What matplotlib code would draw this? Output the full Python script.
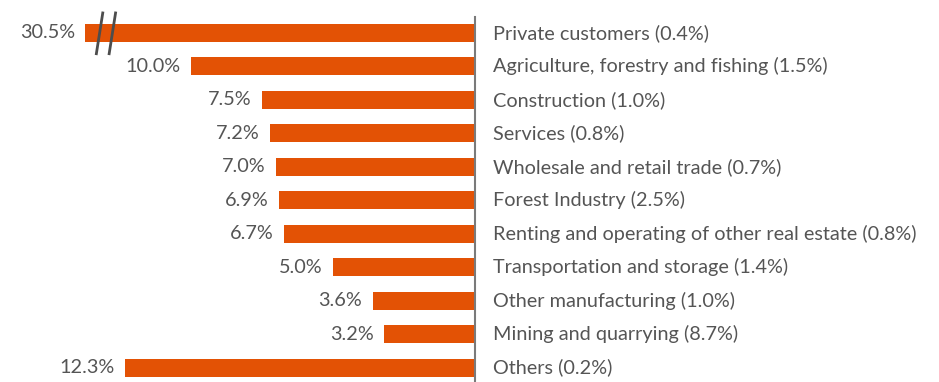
import matplotlib
matplotlib.use("Agg")
import matplotlib.pyplot as plt

# sector shares of the loan book, share of non-performing in brackets
sectors = [
    "Private customers",
    "Agriculture, forestry and fishing",
    "Construction",
    "Services",
    "Wholesale and retail trade",
    "Forest Industry",
    "Renting and operating of other real estate",
    "Transportation and storage",
    "Other manufacturing",
    "Mining and quarrying",
    "Others",
]
shares = [30.5, 10.0, 7.5, 7.2, 7.0, 6.9, 6.7, 5.0, 3.6, 3.2, 12.3]
npl_shares = [0.4, 1.5, 1.0, 0.8, 0.7, 2.5, 0.8, 1.4, 1.0, 8.7, 0.2]

# bars longer than this are cut and drawn with a break mark
BREAK_AT = 13.7

BAR_COLOR = "#e35205"
TEXT_COLOR = "#555555"
FONT = ["Lato", "DejaVu Sans"]

plt.rcParams["font.family"] = FONT

fig = plt.figure(figsize=(9.39, 3.82), dpi=100)
ax = fig.add_axes([0, 0, 1, 1])

n = len(sectors)
ys = list(range(n))
widths = [min(v, BREAK_AT) for v in shares]

ax.barh(ys, [-w for w in widths], height=0.54, color=BAR_COLOR, zorder=2)

for y, w, v, name, npl in zip(ys, widths, shares, sectors, npl_shares):
    ax.annotate(f"{v:.1f}%", xy=(-w, y), xytext=(-7.5, 0),
                textcoords="offset points", ha="right", va="center",
                fontsize=14.3, color=TEXT_COLOR)
    ax.annotate(f"{name} ({npl:.1f}%)", xy=(0, y), xytext=(13, 0),
                textcoords="offset points", ha="left", va="center",
                fontsize=14.3, color=TEXT_COLOR)
    if v > BREAK_AT:
        # two slanted strokes marking the cut bar
        for dx in (0.5, 0.95):
            x0 = -(BREAK_AT - dx)
            ax.plot([x0 - 0.12, x0 + 0.12], [y + 0.66, y - 0.64],
                    color="#4d4d4d", lw=2, zorder=3, solid_capstyle="butt")

# px per percent ~28.45, zero line at x=475 px
ax.set_xlim(-16.70, 16.31)
ax.set_ylim(10.43, -0.986)

for side in ("top", "right", "bottom"):
    ax.spines[side].set_visible(False)
ax.spines["left"].set_position(("data", 0))
ax.spines["left"].set_bounds(-0.48, n)
ax.spines["left"].set_color("#7a7a7a")
ax.spines["left"].set_linewidth(1.5)
ax.set_xticks([])
ax.set_yticks([])
ax.patch.set_alpha(0)

fig.savefig("out.png", dpi=100)
